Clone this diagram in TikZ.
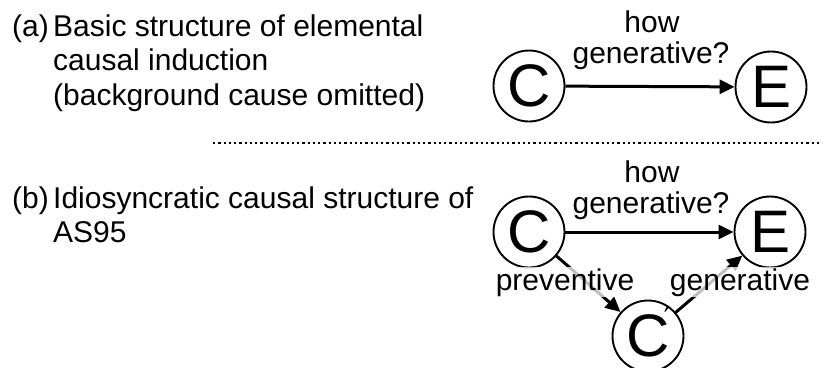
\documentclass[tikz,border=0pt]{standalone}
\usepackage{fontspec}
\setmainfont{Liberation Sans}
\newfontfamily\symfont{DejaVu Sans}
\usetikzlibrary{arrows.meta}
\begin{document}
\begin{tikzpicture}[x=1pt,y=-1pt,
  var/.style={circle,draw,line width=1.9pt,minimum size=71pt,inner sep=0pt,font=\fontsize{60}{60}\selectfont},
  txt/.style={font=\fontsize{30}{34.5}\selectfont,inner sep=0pt},
  link/.style={line width=3pt,-{Triangle[length=15pt,width=14pt]}},
  lab/.style={txt,fill=white,fill opacity=0.75,text opacity=1,inner sep=1pt},
  dotline/.style={line width=2.4pt,dash pattern=on 2.4pt off 2.85pt}]
\useasboundingbox (0,0) rectangle (827,367);
\clip (0,0) rectangle (827,367);
% texts
\node[txt,anchor=base west] (la) at (12,36) {(a)};
\node[txt,anchor=base west,align=left] (ta) at (53,105) {Basic structure of elemental\\causal induction\\(background cause omitted)};
\node[txt,anchor=base west] (lb) at (12,208) {(b)};
\node[txt,anchor=base west,align=left] (tb) at (53,242.5) {Idiosyncratic causal structure of\\AS95};
% separator
\coordinate (d1) at (213,143);
\coordinate (d2) at (822,143);
\draw[dotline] (d1) -- (d2);
% (a)
\node[var] (Ca) at (529,86) {C};
\node[var] (Ea) at (771,87) {E};
\draw[link] (Ca) -- (Ea);
\node[txt,anchor=base] (ha) at (652,32) {how};
\node[txt,anchor=base] (ga) at (651,63) {generative?};
% (b)
\node[var] (Cb) at (529,232) {C};
\node[var] (Eb) at (770,232) {E};
\node[var] (Cp) at (648,336) {C};
\node[anchor=center,inner sep=0pt,font=\symfont\fontsize{28}{28}\selectfont] (pr) at (667,317) {′};
\draw[link] (Cb) -- (Eb);
\draw[link] (Cb) -- (Cp);
\draw[link] (Cp) -- (Eb);
\node[txt,anchor=base] (hb) at (652,182) {how};
\node[txt,anchor=base] (gb) at (651,213) {generative?};
\node[lab,anchor=base] (pv) at (565,290) {preventive};
\node[lab,anchor=base] (gn) at (740,290) {generative};
\end{tikzpicture}
\end{document}
